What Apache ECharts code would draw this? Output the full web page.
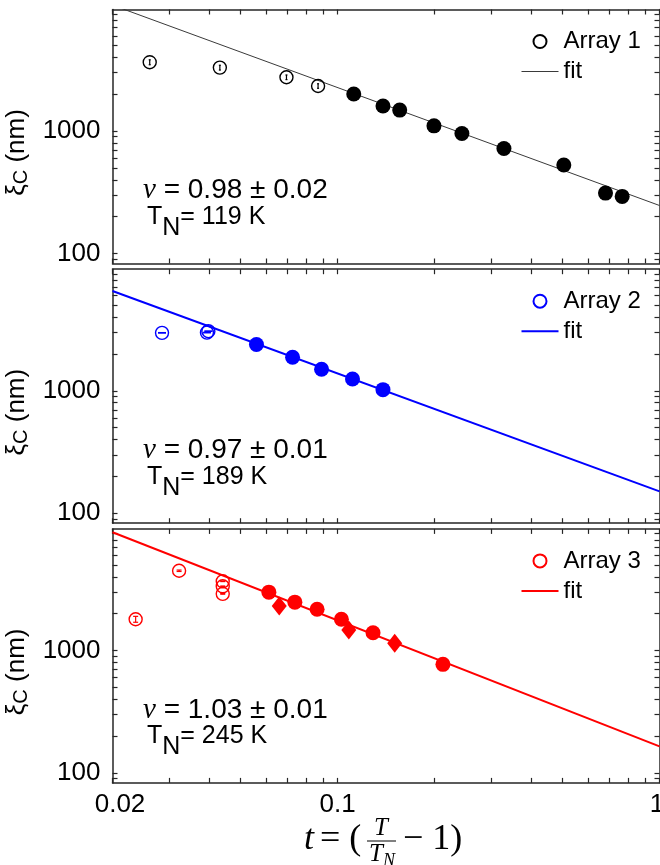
<!DOCTYPE html>
<html><head><meta charset="utf-8">
<script src="https://cdn.jsdelivr.net/npm/echarts@6/dist/echarts.min.js"></script>
<style>html,body{margin:0;padding:0;background:#fff}#c{width:660px;height:865px}</style>
</head><body><div id="c"></div>
<script>
// ---------- data (t = T/TN - 1, xi_C in nm) ----------
const xTickLabels = [0.02, 0.1, 1];
const xMinorTicks = [0.02,0.03,0.04,0.05,0.06,0.07,0.08,0.09,0.1,0.2,0.3,0.4,0.5,0.6,0.7,0.8,0.9,1];
const yTickLabels = [100, 1000];
const yMinorTicks = [90,100,200,300,400,500,600,700,800,900,1000,2000,3000,4000,5000,6000,7000,8000,9000];

// Array 1
const a1OpenT = [0.0261, 0.0431, 0.0694, 0.0870];
const a1OpenY = [3655, 3303, 2756, 2338];
const a1OpenErr = [170, 150, 120, 100];
const a1FillT = [0.1123, 0.1384, 0.156, 0.1993, 0.2434, 0.3287, 0.5044, 0.6796, 0.7657];
const a1FillY = [2011, 1603, 1486, 1105, 957, 721, 529, 312, 293];
const a1FitT = [0.02, 1];
const a1FitY = [10700, 247];

// Array 2
const a2OpenT = [0.0285, 0.0393, 0.0397];
const a2OpenY = [2977, 2990, 3070];
const a2OpenErr = [15, 15, 15];
const a2FillT = [0.0560, 0.0725, 0.0892, 0.1113, 0.1384];
const a2FillY = [2392, 1882, 1500, 1249, 1023];
const a2FitT = [0.02, 1];
const a2FitY = [6540, 151];

// Array 3
const a3OpenT = [0.0236, 0.0322, 0.0440, 0.0440, 0.0440];
const a3OpenY = [1802, 4483, 3678, 3346, 2905];
const a3OpenErr = [100, 60, 20, 20, 20];
const a3FillT = [0.0612, 0.0737, 0.0864, 0.1028, 0.1289, 0.2125];
const a3FillY = [2999, 2484, 2176, 1802, 1399, 771];
const a3DiamT = [0.0659, 0.1084, 0.1505];
const a3DiamY = [2316, 1472, 1146];
const a3FitT = [0.02, 1];
const a3FitY = [9240, 165];

const seriesNames = ['Array 1', 'Array 2', 'Array 3'];
const nuTexts = ['0.98 ± 0.02', '0.97 ± 0.01', '1.03 ± 0.01'];
const tnTexts = ['119 K', '189 K', '245 K'];

// ---------- layout ----------
const colors = ['#000000', '#0000ff', '#ff0000'];
const gridTops = [9.5, 269.2, 528.9];
const GH = 254, GL = 112.5, GW = 547;
const SANS = 'Liberation Sans';
const SERIF = 'Liberation Serif';
const axisCol = '#262626';

const zip = (a, b) => a.map((v, i) => [v, b[i]]);
const panels = [
  {open: [a1OpenT, a1OpenY, a1OpenErr], fill: [a1FillT, a1FillY], diam: null, fit: [a1FitT, a1FitY], fitW: 1, fitC: '#3a3a3a', cap: 2},
  {open: [a2OpenT, a2OpenY, a2OpenErr], fill: [a2FillT, a2FillY], diam: null, fit: [a2FitT, a2FitY], fitW: 2, fitC: colors[1], cap: 8},
  {open: [a3OpenT, a3OpenY, a3OpenErr], fill: [a3FillT, a3FillY], diam: [a3DiamT, a3DiamY], fit: [a3FitT, a3FitY], fitW: 2, fitC: colors[2], cap: 5}
];

const fmtNum = v => String(+(+v).toPrecision(3));

const grid = [], xAxis = [], yAxis = [], series = [], legend = [], graphic = [];
panels.forEach((p, i) => {
  grid.push({left: GL, top: gridTops[i], width: GW, height: GH, containLabel: false, outerBoundsMode: 'none'});
  ['bottom', 'top'].forEach((pos, k) => {
    xAxis.push({
      type: 'log', logBase: 10, gridIndex: i, position: pos, min: 0.02, max: 1,
      axisLine: {show: true, onZero: false, lineStyle: {color: axisCol, width: 1.5}},
      axisTick: {show: true, inside: true, length: 5, customValues: xMinorTicks, lineStyle: {color: axisCol, width: 1.2}},
      axisLabel: {show: i === 2 && k === 0, customValues: xTickLabels, margin: 9, color: '#000',
        fontFamily: SANS, fontSize: 26,
        formatter: v => { const s = fmtNum(v); return s === '0.02' ? '{l|0.02}' : (s === '1' ? '{r|1}' : s); },
        rich: {l: {padding: [0, 0, 0, 15], fontFamily: SANS, fontSize: 26, color: '#000'},
               r: {padding: [0, 5, 0, 0], fontFamily: SANS, fontSize: 26, color: '#000'}}},
      splitLine: {show: false}, minorTick: {show: false}
    });
  });
  ['left', 'right'].forEach((pos, k) => {
    yAxis.push({
      type: 'log', logBase: 10, gridIndex: i, position: pos, min: 83, max: 9850,
      axisLine: {show: true, onZero: false, lineStyle: {color: axisCol, width: 1.5}},
      axisTick: {show: true, inside: true, length: 5, customValues: yMinorTicks, lineStyle: {color: axisCol, width: 1.2}},
      axisLabel: {show: k === 0, customValues: yTickLabels, margin: 12, color: '#000', fontFamily: SANS, fontSize: 26,
        formatter: v => String(Math.round(v))},
      splitLine: {show: false},
      name: k === 0 ? '{a|ξ}{s|C}{a| (nm)}' : '',
      nameLocation: 'middle', nameRotate: 90, nameGap: 79,
      nameTextStyle: {color: '#000', fontFamily: SANS, fontSize: 26, padding: [0, 32, 0, 0],
        rich: {a: {fontFamily: SANS, fontSize: 26, lineHeight: 26, verticalAlign: 'top', color: '#000'},
               s: {fontFamily: SANS, fontSize: 20, lineHeight: 28, verticalAlign: 'bottom', color: '#000'}}}
    });
  });
  const xi = 2 * i, yi = 2 * i;
  series.push({
    type: 'line', name: 'fit' + (i + 1), xAxisIndex: xi, yAxisIndex: yi, data: zip(p.fit[0], p.fit[1]),
    symbol: 'none', showSymbol: false, clip: true, lineStyle: {color: p.fitC, width: p.fitW}, itemStyle: {color: p.fitC}, z: 1
  });
  series.push({
    type: 'custom', name: 'err' + (i + 1), xAxisIndex: xi, yAxisIndex: yi, silent: true, z: 4,
    data: p.open[0].map((t, k) => [t, p.open[1][k] - p.open[2][k], p.open[1][k] + p.open[2][k]]),
    renderItem: (params, api) => {
      const lo = api.coord([api.value(0), api.value(1)]);
      const hi = api.coord([api.value(0), api.value(2)]);
      const st = {stroke: colors[i], lineWidth: 1.2};
      const c = p.cap / 2;
      return {type: 'group', children: [
        {type: 'line', shape: {x1: lo[0], y1: lo[1], x2: hi[0], y2: hi[1]}, style: st},
        {type: 'line', shape: {x1: lo[0] - c, y1: lo[1], x2: lo[0] + c, y2: lo[1]}, style: st},
        {type: 'line', shape: {x1: hi[0] - c, y1: hi[1], x2: hi[0] + c, y2: hi[1]}, style: st}
      ]};
    }
  });
  series.push({
    type: 'scatter', name: seriesNames[i], xAxisIndex: xi, yAxisIndex: yi, data: zip(p.open[0], p.open[1]),
    symbol: 'circle', symbolSize: 13, z: 3,
    itemStyle: {color: 'rgba(255,255,255,0)', borderColor: colors[i], borderWidth: 1.4, opacity: 1}
  });
  series.push({
    type: 'scatter', name: 'filled' + (i + 1), xAxisIndex: xi, yAxisIndex: yi, data: zip(p.fill[0], p.fill[1]),
    symbol: 'circle', symbolSize: 15, z: 3, itemStyle: {color: colors[i], opacity: 1}
  });
  if (p.diam) series.push({
    type: 'scatter', name: 'diamond' + (i + 1), xAxisIndex: xi, yAxisIndex: yi, data: zip(p.diam[0], p.diam[1]),
    symbol: 'diamond', symbolSize: [15, 19], z: 3, itemStyle: {color: colors[i], opacity: 1}
  });
  const lw = p.fitW;
  legend.push({
    data: [{name: seriesNames[i]},
           {name: 'fit' + (i + 1), icon: 'path://M0,0L37,0L37,' + lw + 'L0,' + lw + 'Z', itemStyle: {color: p.fitC, borderWidth: 0}}],
    orient: 'vertical', left: 521.5, top: gridTops[i] + 32 - 12.5,
    itemWidth: 37, itemHeight: 13, itemGap: 5, selectedMode: false, padding: 0,
    formatter: n => n.indexOf('fit') === 0 ? 'fit' : n,
    textStyle: {fontFamily: SANS, fontSize: 24, lineHeight: 25, color: '#000'}
  });
  // annotations
  graphic.push({
    type: 'text', x: 143, y: gridTops[i] + 181, silent: true,
    style: {text: '{nu|ν}{m| = ' + nuTexts[i] + '}', verticalAlign: 'middle', align: 'left',
      rich: {nu: {fontFamily: SERIF, fontStyle: 'italic', fontSize: 29, fill: '#000', lineHeight: 28, verticalAlign: 'middle'},
             m: {fontFamily: SANS, fontSize: 28, fill: '#000', lineHeight: 28, verticalAlign: 'middle'}}}
  });
  graphic.push({
    type: 'text', x: 147, y: gridTops[i] + 213, silent: true,
    style: {text: '{m|T}{s|N}{m|= ' + tnTexts[i] + '}', verticalAlign: 'middle', align: 'left',
      rich: {m: {fontFamily: SANS, fontSize: 25, fill: '#000', lineHeight: 26, verticalAlign: 'top'},
             s: {fontFamily: SANS, fontSize: 25, fill: '#000', lineHeight: 36, verticalAlign: 'bottom'}}}
  });
});

// x-axis title: t = (T/T_N - 1)
const xt = {fontFamily: SERIF, fill: '#000'};
graphic.push(
  {type: 'text', x: 304, y: 840, silent: true, style: Object.assign({text: 't', fontSize: 36, fontStyle: 'italic', verticalAlign: 'middle'}, xt)},
  {type: 'text', x: 320, y: 840, silent: true, style: Object.assign({text: '= (', fontSize: 36, verticalAlign: 'middle'}, xt)},
  {type: 'text', x: 381, y: 828, silent: true, style: Object.assign({text: 'T', fontSize: 25, fontStyle: 'italic', align: 'center', verticalAlign: 'middle'}, xt)},
  {type: 'line', silent: true, shape: {x1: 367, y1: 841, x2: 396, y2: 841}, style: {stroke: '#000', lineWidth: 1}},
  {type: 'text', x: 369, y: 856, silent: true, style: Object.assign({text: '{a|T}{b|N}', verticalAlign: 'middle',
      rich: {a: {fontFamily: SERIF, fontStyle: 'italic', fontSize: 25, lineHeight: 25, verticalAlign: 'top'},
             b: {fontFamily: SERIF, fontStyle: 'italic', fontSize: 18, lineHeight: 28, verticalAlign: 'bottom'}}}, xt)},
  {type: 'text', x: 403, y: 840, silent: true, style: Object.assign({text: '− 1)', fontSize: 36, verticalAlign: 'middle'}, xt)}
);

const chart = echarts.init(document.getElementById('c'), null, {renderer: 'canvas'});
chart.setOption({
  animation: false, backgroundColor: '#fff',
  grid, xAxis, yAxis, series, legend, graphic
});
</script></body></html>
